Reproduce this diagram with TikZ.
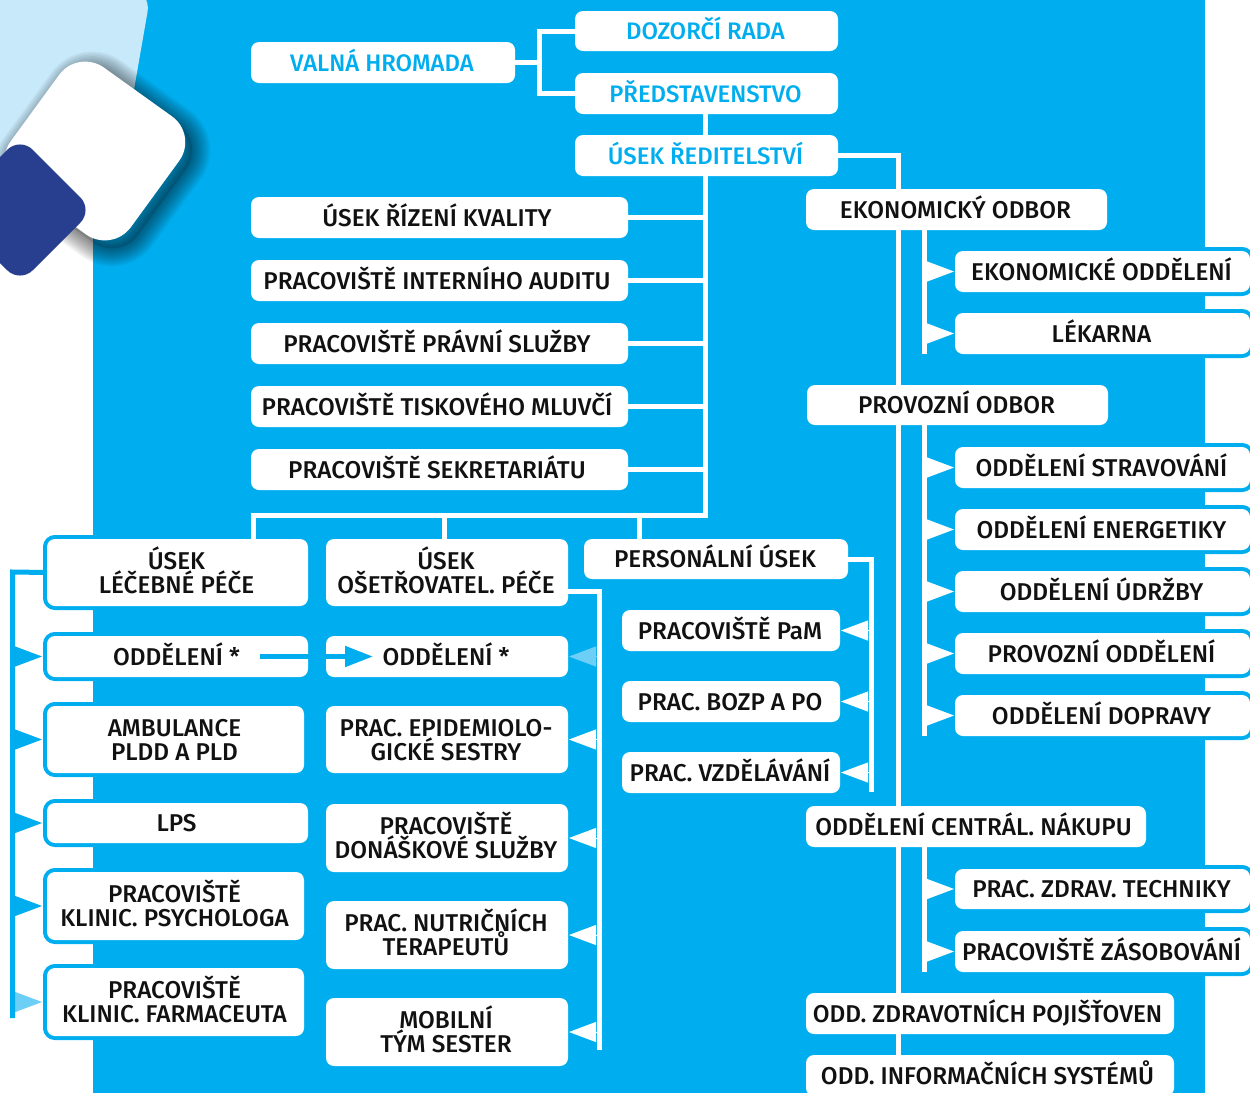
\documentclass[tikz,border=0pt]{standalone}
\usepackage{fontspec}
\setmainfont{Fira Sans}[UprightFont=* Medium]
\usetikzlibrary{arrows.meta}
\definecolor{cyanbg}{HTML}{00AEEF}
\definecolor{cyanlt}{HTML}{6DCFF6}
\definecolor{paleblue}{HTML}{C7E9FA}
\definecolor{navy}{HTML}{283F8F}
\definecolor{inkc}{HTML}{111111}
\newcommand{\lnx}[1]{\hspace*{-2pt}\raisebox{0pt}[20.5pt][3.5pt]{#1}}
\newcommand{\lny}[1]{\hspace*{-5pt}\raisebox{0pt}[20.5pt][3.5pt]{#1}}
\newcommand{\bx}[7][plainbox]{%
  \pgfmathsetmacro{\bw}{#5-#3}\pgfmathsetmacro{\bh}{#6-#4}%
  \pgfmathsetmacro{\cx}{(#3+#5)/2}\pgfmathsetmacro{\cy}{(#4+#6)/2}%
  \node[#1,minimum width=\bw pt,minimum height=\bh pt] (#2) at (\cx,\cy) {#7};}
\tikzset{
  plainbox/.style={fill=white,rounded corners=8pt,inner sep=0pt,outer sep=0pt,align=center,
    text=inkc,font=\fontsize{24.3}{24}\selectfont},
  cyantext/.style={plainbox,text=cyanbg,font=\fontsize{23.9}{24}\selectfont},
  ringbox/.style={plainbox,preaction={draw=cyanbg,line width=8pt}},
  wline/.style={draw=white,line width=5pt},
  cline/.style={draw=cyanbg,line width=5pt},
  wtip/.style={draw=white,line width=1pt,-{Triangle[length=27pt,width=20pt,fill=white,color=white]},shorten >=1pt},
  ctip/.style={draw=cyanbg,line width=1pt,-{Triangle[length=27pt,width=20pt,fill=cyanbg,color=cyanbg]},shorten >=5pt},
  ltip/.style={draw=cyanlt,line width=1pt,-{Triangle[length=27pt,width=20pt,fill=cyanlt,color=cyanlt]}},
}
\begin{document}
\begin{tikzpicture}[x=1pt,y=-1pt]
\useasboundingbox (0,0) rectangle (1250,1093);
\clip (0,0) rectangle (1250,1093);
\fill[white] (0,0) rectangle (1250,1093);
\fill[cyanbg] (93,0) rectangle (1205,1093);
% decorative shapes
\fill[paleblue,rounded corners=20pt] (-2,-50) -- (151,-8) -- (120,170) -- (-2,170) -- cycle;
\fill[black,opacity=.12,rounded corners=32pt] (85,57) -- (205,143) -- (119,261) -- (-1,175) -- cycle;
\foreach \w in {3,6,9,12,15,18,21,24,27,30,33,36}
  \draw[black,opacity=.045,line width=\w pt,rounded corners=32pt] (85,57) -- (205,143) -- (119,261) -- (-1,175) -- cycle;
\fill[white,rounded corners=32pt] (78,49) -- (198,135) -- (112,253) -- (-8,167) -- cycle;
\fill[navy,rounded corners=18pt] (20,137) -- (93,210) -- (20,283) -- (-53,210) -- cycle;
% boxes
\bx[cyantext]{valna}{251}{42}{515}{83}{\lnx{VALNÁ HROMADA}}
\bx[cyantext]{dozor}{575}{11}{838}{51}{\lnx{DOZORČÍ RADA}}
\bx[cyantext]{pred}{575}{73}{838}{114}{\lnx{PŘEDSTAVENSTVO}}
\bx[cyantext]{red}{575}{135}{838}{176}{\lnx{ÚSEK ŘEDITELSTVÍ}}
\bx{kval}{251}{197}{628}{238}{\lny{ÚSEK ŘÍZENÍ KVALITY}}
\bx{audit}{251}{260}{628}{301}{\lny{PRACOVIŠTĚ INTERNÍHO AUDITU}}
\bx{prav}{251}{323}{628}{364}{\lny{PRACOVIŠTĚ PRÁVNÍ SLUŽBY}}
\bx{tisk}{251}{386}{628}{427}{\lny{PRACOVIŠTĚ TISKOVÉHO MLUVČÍ}}
\bx{sekr}{251}{449}{628}{490}{\lny{PRACOVIŠTĚ SEKRETARIÁTU}}
\bx[ringbox]{lec}{47}{539}{308}{606}{\lnx{ÚSEK}\\\lnx{LÉČEBNÉ PÉČE}}
\bx[ringbox]{oddA}{47}{636}{308}{677}{\lnx{ODDĚLENÍ *}}
\bx[ringbox]{amb}{47}{706}{304}{773}{\lnx{AMBULANCE}\\\lnx{PLDD A PLD}}
\bx[ringbox]{lps}{47}{803}{308}{843}{\lnx{LPS}}
\bx[ringbox]{psy}{47}{872}{304}{940}{\lnx{PRACOVIŠTĚ}\\\lnx{KLINIC. PSYCHOLOGA}}
\bx[ringbox]{farm}{47}{968}{304}{1036}{\lnx{PRACOVIŠTĚ}\\\lnx{KLINIC. FARMACEUTA}}
\bx{ose}{326}{539}{568}{606}{\lnx{ÚSEK}\\\lnx{OŠETŘOVATEL. PÉČE}}
\bx{oddB}{326}{636}{568}{677}{\lnx{ODDĚLENÍ *}}
\bx{epid}{326}{706}{568}{773}{\lnx{PRAC. EPIDEMIOLO-}\\\lnx{GICKÉ SESTRY}}
\bx{don}{326}{804}{568}{872}{\lnx{PRACOVIŠTĚ}\\\lnx{DONÁŠKOVÉ SLUŽBY}}
\bx{nutr}{326}{901}{568}{969}{\lnx{PRAC. NUTRIČNÍCH}\\\lnx{TERAPEUTŮ}}
\bx{mob}{326}{998}{568}{1066}{\lnx{MOBILNÍ}\\\lnx{TÝM SESTER}}
\bx{pers}{584}{539}{848}{579}{\lnx{PERSONÁLNÍ ÚSEK}}
\bx{pam}{622}{610}{840}{651}{\lnx{PRACOVIŠTĚ PaM}}
\bx{bozp}{622}{681}{840}{722}{\lnx{PRAC. BOZP A PO}}
\bx{vzd}{622}{752}{840}{793}{\lnx{PRAC. VZDĚLÁVÁNÍ}}
\bx{ekon}{806}{189}{1107}{230}{\lnx{EKONOMICKÝ ODBOR}}
\bx[ringbox]{ekod}{955}{251}{1250}{292}{\lnx{EKONOMICKÉ ODDĚLENÍ}}
\bx[ringbox]{lek}{955}{313}{1250}{354}{\lnx{LÉKARNA}}
\bx{prov}{807}{385}{1108}{425}{\lnx{PROVOZNÍ ODBOR}}
\bx[ringbox]{strav}{955}{447}{1250}{488}{\lnx{ODDĚLENÍ STRAVOVÁNÍ}}
\bx[ringbox]{ener}{955}{509}{1250}{550}{\lnx{ODDĚLENÍ ENERGETIKY}}
\bx[ringbox]{udrz}{955}{571}{1250}{612}{\lnx{ODDĚLENÍ ÚDRŽBY}}
\bx[ringbox]{prod}{955}{633}{1250}{674}{\lnx{PROVOZNÍ ODDĚLENÍ}}
\bx[ringbox]{dopr}{955}{695}{1250}{736}{\lnx{ODDĚLENÍ DOPRAVY}}
\bx{cent}{806}{806}{1146}{847}{\lny{ODDĚLENÍ CENTRÁL. NÁKUPU}}
\bx[ringbox]{zdrav}{955}{869}{1250}{909}{\lnx{PRAC. ZDRAV. TECHNIKY}}
\bx[ringbox]{zas}{955}{931}{1250}{972}{\lnx{PRACOVIŠTĚ ZÁSOBOVÁNÍ}}
\bx{poj}{806}{993}{1174}{1034}{\lny{ODD. ZDRAVOTNÍCH POJIŠŤOVEN}}
\bx{inf}{806}{1055}{1174}{1096}{\lny{ODD. INFORMAČNÍCH SYSTÉMŮ}}
% guide coordinates
\coordinate (spR) at (705,0);
\coordinate (spE) at (898,0);
\coordinate (subE) at (924,0);
\coordinate (spP) at (871,0);
\coordinate (spO) at (599,0);
\coordinate (spL) at (12.5,0);
\coordinate (fork) at (539,0);
\coordinate (busY) at (0,515);
\coordinate (endEk) at (924,354);
\coordinate (endPr) at (924,736);
\coordinate (endCe) at (924,972);
\coordinate (endPe) at (871,792);
\coordinate (endOs) at (599,1050);
\coordinate (endLe) at (12.5,1018);
\coordinate (arrS) at (260,656.5);
\coordinate (dropA) at (253,0);
\coordinate (dropB) at (444,0);
\coordinate (dropC) at (639,0);
\coordinate (arrE) at (382,656.5);
% top connectors
\draw[wline] (valna.east) -- (valna.east -| fork);
\draw[wline] (dozor.west) -- (dozor.west -| fork) -- (pred.west -| fork) -- (pred.west);
\draw[wline] (pred.south -| spR) -- (red.north -| spR);
\foreach \n in {kval,audit,prav,tisk,sekr}
  \draw[wline] (\n.east) -- (\n.east -| spR);
\draw[wline] (dropA |- lec.north) -- (dropA |- busY) -- (spR |- busY) -- (red.south -| spR);
\draw[wline] (dropB |- ose.north) -- (dropB |- busY);
\draw[wline] (dropC |- pers.north) -- (dropC |- busY);
% right-hand connectors
\draw[wline] (red.east) -- (red.east -| spE) -- (spE |- ekon.north);
\draw[wline] (spE |- ekon.south) -- (spE |- prov.north);
\draw[wline] (spE |- prov.south) -- (spE |- cent.north);
\draw[wline] (spE |- cent.south) -- (spE |- poj.north);
\draw[wline] (spE |- poj.south) -- (spE |- inf.north);
\foreach \n in {ekod,lek,strav,ener,udrz,prod,dopr,zdrav,zas}
  \draw[wtip] (subE |- \n.west) -- (\n.west);
\draw[wline] (subE |- ekon.south) -- (endEk);
\draw[wline] (subE |- prov.south) -- (endPr);
\draw[wline] (subE |- cent.south) -- (endCe);
% personnel
\foreach \n in {pam,bozp,vzd}
  \draw[wtip] (spP |- \n.east) -- (\n.east);
\draw[wline] (pers.east) -- (pers.east -| spP) -- (endPe);
% nursing
\coordinate (oseY) at (0,591);
\draw[ltip,shorten >=1pt] (spO |- oddB.east) -- (oddB.east);
\foreach \n in {epid,don,nutr,mob}
  \draw[wtip] (spO |- \n.east) -- (\n.east);
\draw[wline] (ose.east |- oseY) -- (spO |- oseY) -- (endOs);
% medical
\coordinate (lecY) at (0,572);
\foreach \n in {oddA,amb,lps,psy}
  \draw[ctip] (spL |- \n.west) -- (\n.west);
\draw[ltip,shorten >=5pt] (spL |- farm.west) -- (farm.west);
\draw[cline] (lec.west) -- (spL |- lecY) -- (endLe);
% ODDELENI to ODDELENI
\draw[cline,-{Triangle[length=28pt,width=20pt,fill=cyanbg,color=cyanbg]},shorten >=9pt] (arrS) -- (arrE);
\end{tikzpicture}
\end{document}
